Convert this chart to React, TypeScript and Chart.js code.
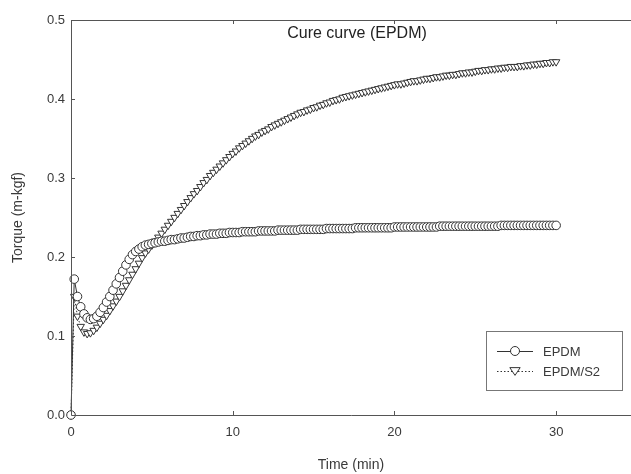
import React, { useEffect, useRef } from 'react';
import { Chart, registerables } from 'chart.js';

Chart.register(...registerables);

const time = [
  0, 0.2, 0.4, 0.6, 0.8, 1.0, 1.2, 1.4, 1.6, 1.8, 2.0, 2.2, 2.4, 2.6, 2.8, 3.0,
  3.2, 3.4, 3.6, 3.8, 4.0, 4.2, 4.4, 4.6, 4.8, 5.0, 5.2, 5.4, 5.6, 5.8, 6.0,
  6.2, 6.4, 6.6, 6.8, 7.0, 7.2, 7.4, 7.6, 7.8, 8.0, 8.2, 8.4, 8.6, 8.8, 9.0,
  9.2, 9.4, 9.6, 9.8, 10.0, 10.2, 10.4, 10.6, 10.8, 11.0, 11.2, 11.4, 11.6, 11.8, 12.0,
  12.2, 12.4, 12.6, 12.8, 13.0, 13.2, 13.4, 13.6, 13.8, 14.0, 14.2, 14.4, 14.6, 14.8, 15.0,
  15.2, 15.4, 15.6, 15.8, 16.0, 16.2, 16.4, 16.6, 16.8, 17.0, 17.2, 17.4, 17.6, 17.8, 18.0,
  18.2, 18.4, 18.6, 18.8, 19.0, 19.2, 19.4, 19.6, 19.8, 20.0, 20.2, 20.4, 20.6, 20.8, 21.0,
  21.2, 21.4, 21.6, 21.8, 22.0, 22.2, 22.4, 22.6, 22.8, 23.0, 23.2, 23.4, 23.6, 23.8, 24.0,
  24.2, 24.4, 24.6, 24.8, 25.0, 25.2, 25.4, 25.6, 25.8, 26.0, 26.2, 26.4, 26.6, 26.8, 27.0,
  27.2, 27.4, 27.6, 27.8, 28.0, 28.2, 28.4, 28.6, 28.8, 29.0, 29.2, 29.4, 29.6, 29.8, 30.0,
];

const epdm = [
  0, 0.172, 0.150, 0.137, 0.128, 0.123, 0.121, 0.122, 0.125, 0.130, 0.136, 0.143, 0.150, 0.158, 0.166, 0.174,
  0.182, 0.190, 0.197, 0.203, 0.207, 0.210, 0.213, 0.215, 0.216, 0.217, 0.218, 0.219, 0.220, 0.220, 0.221,
  0.222, 0.222, 0.223, 0.224, 0.224, 0.225, 0.226, 0.226, 0.227, 0.227, 0.228, 0.228, 0.229, 0.229, 0.229,
  0.230, 0.230, 0.230, 0.231, 0.231, 0.231, 0.231, 0.232, 0.232, 0.232, 0.232, 0.232, 0.233, 0.233, 0.233,
  0.233, 0.233, 0.233, 0.234, 0.234, 0.234, 0.234, 0.234, 0.234, 0.234, 0.235, 0.235, 0.235, 0.235, 0.235,
  0.235, 0.235, 0.235, 0.236, 0.236, 0.236, 0.236, 0.236, 0.236, 0.236, 0.236, 0.236, 0.237, 0.237, 0.237,
  0.237, 0.237, 0.237, 0.237, 0.237, 0.237, 0.237, 0.237, 0.237, 0.238, 0.238, 0.238, 0.238, 0.238, 0.238,
  0.238, 0.238, 0.238, 0.238, 0.238, 0.238, 0.238, 0.238, 0.239, 0.239, 0.239, 0.239, 0.239, 0.239, 0.239,
  0.239, 0.239, 0.239, 0.239, 0.239, 0.239, 0.239, 0.239, 0.239, 0.239, 0.239, 0.239, 0.240, 0.240, 0.240,
  0.240, 0.240, 0.240, 0.240, 0.240, 0.240, 0.240, 0.240, 0.240, 0.240, 0.240, 0.240, 0.240, 0.240, 0.240,
];

const epdmS2 = [
  0, 0.150, 0.125, 0.112, 0.105, 0.103, 0.104, 0.107, 0.111, 0.116, 0.121, 0.126, 0.132, 0.138, 0.144, 0.150,
  0.157, 0.164, 0.171, 0.178, 0.185, 0.192, 0.199, 0.205, 0.210, 0.215, 0.220, 0.225, 0.230, 0.235, 0.240,
  0.245, 0.250, 0.255, 0.260, 0.265, 0.270, 0.275, 0.280, 0.284, 0.289, 0.294, 0.298, 0.303, 0.307, 0.311,
  0.315, 0.319, 0.323, 0.327, 0.331, 0.334, 0.338, 0.341, 0.344, 0.347, 0.350, 0.353, 0.355, 0.358, 0.360,
  0.362, 0.365, 0.367, 0.369, 0.371, 0.373, 0.375, 0.377, 0.379, 0.381, 0.383, 0.384, 0.386, 0.387, 0.389,
  0.390, 0.392, 0.393, 0.395, 0.396, 0.398, 0.399, 0.400, 0.402, 0.403, 0.404, 0.405, 0.406, 0.407, 0.408,
  0.409, 0.410, 0.411, 0.412, 0.413, 0.414, 0.415, 0.416, 0.417, 0.418, 0.419, 0.419, 0.420, 0.421, 0.422,
  0.423, 0.423, 0.424, 0.425, 0.426, 0.426, 0.427, 0.428, 0.428, 0.429, 0.430, 0.430, 0.431, 0.431, 0.432,
  0.433, 0.433, 0.434, 0.434, 0.435, 0.436, 0.436, 0.437, 0.437, 0.438, 0.438, 0.439, 0.439, 0.440, 0.440,
  0.441, 0.441, 0.441, 0.442, 0.442, 0.443, 0.443, 0.444, 0.444, 0.445, 0.445, 0.446, 0.446, 0.447, 0.447,
];

const seriesLabels = ['EPDM', 'EPDM/S2'];
const xTicks = [0, 10, 20, 30];
const yTicks = [0, 0.1, 0.2, 0.3, 0.4, 0.5];
const chartTitle = 'Cure curve (EPDM)';
const xTitle = 'Time (min)';
const yTitle = 'Torque (m-kgf)';

const FONT = '"Liberation Sans", Arial, Helvetica, sans-serif';
const INK = '#333333';
const FRAME = '#555555';
const TEXT = '#3a3a3a';

function drawMarker(ctx: CanvasRenderingContext2D, kind: string, x: number, y: number, r: number) {
  ctx.save();
  ctx.fillStyle = '#ffffff';
  ctx.strokeStyle = INK;
  ctx.lineWidth = 1;
  ctx.setLineDash([]);
  ctx.beginPath();
  if (kind === 'circle') {
    ctx.arc(x, y, r, 0, Math.PI * 2);
  } else {
    const h = r * 1.5;
    ctx.moveTo(x - r * 1.15, y - h / 2);
    ctx.lineTo(x + r * 1.15, y - h / 2);
    ctx.lineTo(x, y + h / 2 + 1);
    ctx.closePath();
  }
  ctx.fill();
  ctx.stroke();
  ctx.restore();
}

const decorPlugin = {
  id: 'decor',
  afterDatasetsDraw(chart: any) {
    const { ctx, chartArea } = chart;
    const xs = chart.scales.x;
    const ys = chart.scales.y;
    ctx.save();
    ctx.strokeStyle = FRAME;
    ctx.lineWidth = 1;
    ctx.beginPath();
    ctx.moveTo(chartArea.left + 0.5, chartArea.top + 0.5);
    ctx.lineTo(chartArea.left + 0.5, chartArea.bottom + 0.5);
    ctx.lineTo(chartArea.right, chartArea.bottom + 0.5);
    ctx.moveTo(chartArea.left, chartArea.top + 0.5);
    ctx.lineTo(chartArea.right, chartArea.top + 0.5);
    ctx.stroke();
    ctx.beginPath();
    for (const v of xTicks) {
      if (v === 0) continue;
      const px = Math.round(xs.getPixelForValue(v)) + 0.5;
      ctx.moveTo(px, chartArea.bottom);
      ctx.lineTo(px, chartArea.bottom - 4);
      ctx.moveTo(px, chartArea.top);
      ctx.lineTo(px, chartArea.top + 4);
    }
    for (const v of yTicks) {
      if (v === 0 || v === 0.5) continue;
      const py = Math.round(ys.getPixelForValue(v)) + 0.5;
      ctx.moveTo(chartArea.left, py);
      ctx.lineTo(chartArea.left + 4, py);
    }
    ctx.stroke();
    ctx.restore();
  },
  afterDraw(chart: any) {
    const { ctx, chartArea } = chart;
    ctx.save();
    ctx.fillStyle = '#222222';
    ctx.font = `16px ${FONT}`;
    ctx.textAlign = 'center';
    ctx.textBaseline = 'middle';
    ctx.fillText(chartTitle, chartArea.left + 286, chartArea.top + 14);

    ctx.fillStyle = TEXT;
    ctx.font = `14px ${FONT}`;
    ctx.fillText(xTitle, (chartArea.left + chartArea.right) / 2, chartArea.bottom + 50);
    ctx.save();
    ctx.translate(18, (chartArea.top + chartArea.bottom) / 2);
    ctx.rotate(-Math.PI / 2);
    ctx.fillText(yTitle, 0, 0);
    ctx.restore();

    const bx = chartArea.right - 145;
    const by = chartArea.bottom - 84;
    const bw = 136;
    const bh = 59;
    ctx.strokeStyle = '#777777';
    ctx.lineWidth = 1;
    ctx.strokeRect(bx + 0.5, by + 0.5, bw, bh);
    const kinds = ['circle', 'triangle'];
    seriesLabels.forEach((label, i) => {
      const ry = by + 20 + i * 20;
      ctx.save();
      ctx.strokeStyle = INK;
      ctx.lineWidth = 1;
      ctx.setLineDash(i === 0 ? [] : [1.5, 2]);
      ctx.beginPath();
      ctx.moveTo(bx + 11, ry + 0.5);
      ctx.lineTo(bx + 47, ry + 0.5);
      ctx.stroke();
      ctx.restore();
      drawMarker(ctx, kinds[i], bx + 29, ry, 4.5);
      ctx.fillStyle = TEXT;
      ctx.font = `13px ${FONT}`;
      ctx.textAlign = 'left';
      ctx.textBaseline = 'middle';
      ctx.fillText(label, bx + 57, ry + 1);
    });
    ctx.restore();
  },
};

export default function App() {
  const canvasRef = useRef<HTMLCanvasElement | null>(null);

  useEffect(() => {
    document.body.style.margin = '0';
    const canvas = canvasRef.current;
    if (!canvas) return;
    const chart = new Chart(canvas, {
      type: 'line',
      data: {
        datasets: [
          {
            label: seriesLabels[0],
            data: time.map((t, i) => ({ x: t, y: epdm[i] })),
            borderColor: INK,
            borderWidth: 1,
            pointStyle: 'circle',
            pointRadius: 4.3,
            pointBackgroundColor: '#ffffff',
            pointBorderColor: INK,
            pointBorderWidth: 1,
            fill: false,
            tension: 0,
            clip: false,
          },
          {
            label: seriesLabels[1],
            data: time.map((t, i) => ({ x: t, y: epdmS2[i] })),
            borderColor: INK,
            borderWidth: 1,
            borderDash: [1.5, 2],
            pointStyle: 'triangle',
            pointRotation: 180,
            pointRadius: 4.3,
            pointBackgroundColor: '#ffffff',
            pointBorderColor: INK,
            pointBorderWidth: 1,
            fill: false,
            tension: 0,
            clip: false,
          },
        ],
      },
      options: {
        animation: false,
        responsive: false,
        maintainAspectRatio: false,
        layout: { autoPadding: false, padding: { top: 20, right: 0, left: 0, bottom: 0 } },
        plugins: {
          legend: { display: false },
          title: { display: false },
          tooltip: { enabled: false },
        },
        scales: {
          x: {
            type: 'linear',
            min: 0,
            max: 34.63,
            afterBuildTicks: (scale: any) => {
              scale.ticks = xTicks.map((v) => ({ value: v }));
            },
            afterFit: (scale: any) => {
              scale.height = 59;
              scale.paddingRight = 0;
              scale.paddingLeft = 0;
            },
            grid: { display: false, drawTicks: false },
            border: { display: false },
            ticks: {
              padding: 10,
              color: TEXT,
              font: { family: FONT, size: 13 },
              maxRotation: 0,
              callback: (v: any) => String(v),
            },
          },
          y: {
            type: 'linear',
            min: 0,
            max: 0.5,
            afterBuildTicks: (scale: any) => {
              scale.ticks = yTicks.map((v) => ({ value: v }));
            },
            afterFit: (scale: any) => {
              scale.width = 71;
            },
            grid: { display: false, drawTicks: false },
            border: { display: false },
            ticks: {
              padding: 6,
              color: TEXT,
              font: { family: FONT, size: 13 },
              callback: (v: any) => Number(v).toFixed(1),
            },
          },
        },
      },
      plugins: [decorPlugin],
    });
    return () => chart.destroy();
  }, []);

  return (
    <div style={{ width: 631, height: 474, overflow: 'hidden', background: '#ffffff' }}>
      <canvas ref={canvasRef} width={631} height={474} style={{ display: 'block' }} />
    </div>
  );
}
